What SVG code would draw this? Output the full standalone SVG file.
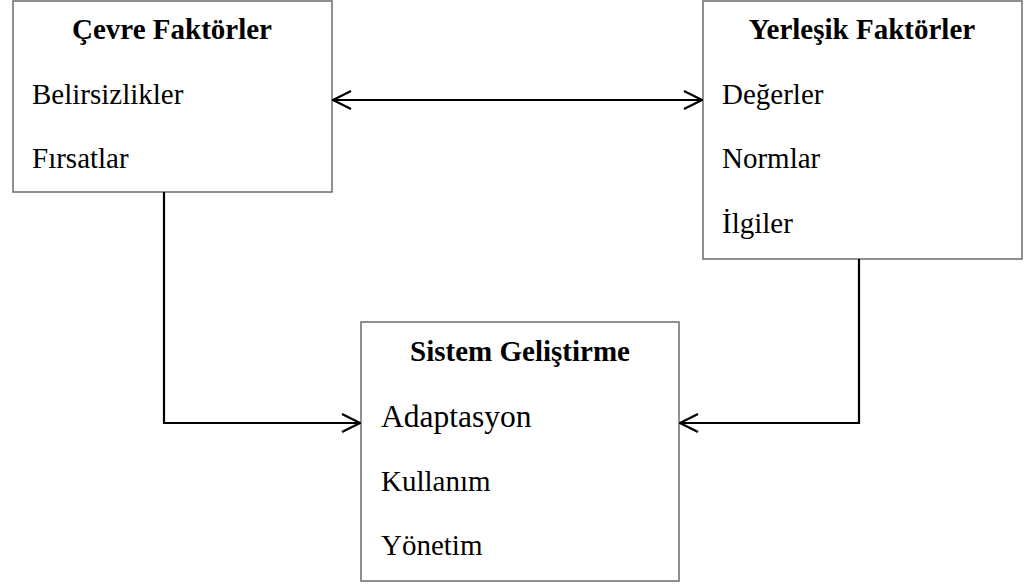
<svg xmlns="http://www.w3.org/2000/svg" width="1035" height="584" viewBox="0 0 1035 584">
<style>
.box{fill:#fff;stroke:#6b6b6b;stroke-width:1.5}
.t{font-family:"Liberation Serif","Times New Roman",serif;font-size:29px;fill:#000}
.b{font-weight:bold;text-anchor:middle}
.con{fill:none;stroke:#000;stroke-width:2.2}
</style>
<defs>
<marker id="ah" viewBox="0 0 20 20" refX="19" refY="10" markerWidth="20" markerHeight="20" markerUnits="userSpaceOnUse" orient="auto-start-reverse">
<path d="M1,1 L19,10 L1,19" fill="none" stroke="#000" stroke-width="2.2"/>
</marker>
</defs>
<rect width="1035" height="584" fill="#fff"/>
<g id="cevre">
<rect class="box" x="13" y="1" width="319" height="191"/>
<text class="t b" x="172" y="39">Çevre Faktörler</text>
<text class="t" x="32" y="104">Belirsizlikler</text>
<text class="t" x="32" y="168">Fırsatlar</text>
</g>
<g id="yerlesik">
<rect class="box" x="703" y="1" width="319" height="258"/>
<text class="t b" x="862" y="39">Yerleşik Faktörler</text>
<text class="t" x="722" y="104">Değerler</text>
<text class="t" x="722" y="168">Normlar</text>
<text class="t" x="722" y="233">İlgiler</text>
</g>
<g id="sistem">
<rect class="box" x="361" y="322" width="318" height="259"/>
<text class="t b" x="520" y="361">Sistem Geliştirme</text>
<text class="t" x="381" y="427" style="font-size:31.5px">Adaptasyon</text>
<text class="t" x="381" y="491">Kullanım</text>
<text class="t" x="381" y="555">Yönetim</text>
</g>
<g id="connectors">
<path class="con" d="M333,100 L702,100" marker-start="url(#ah)" marker-end="url(#ah)"/>
<path class="con" d="M164,192 L164,423 L360,423" marker-end="url(#ah)"/>
<path class="con" d="M859,259 L859,423 L680,423" marker-end="url(#ah)"/>
</g>
</svg>
